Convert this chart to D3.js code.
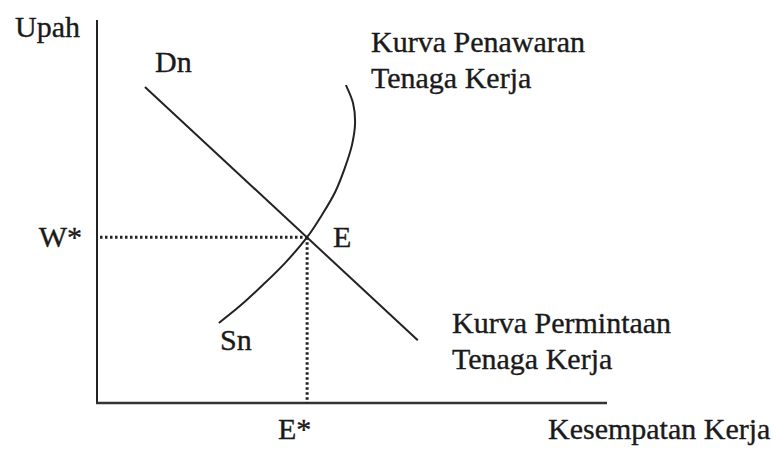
<!DOCTYPE html>
<html>
<head>
<meta charset="utf-8">
<script src="https://cdn.jsdelivr.net/npm/d3@7"></script>
<style>
  body { margin: 0; background: #fff; }
  text { font-family: "Liberation Serif", "Times New Roman", serif; fill: #1a1a1a; stroke: #1a1a1a; stroke-width: 0.35; }
</style>
</head>
<body>
<svg id="chart" width="776" height="450"></svg>
<script>
// Demand curve (Dn), straight line, in axis units
const demandX = [0.94, 6.29];
const demandY = [8.25, 1.64];

// Supply curve (Sn), backward bending at the top
const supplyX = [2.39, 2.80, 3.25, 3.69, 4.12, 4.41, 4.67, 4.86, 5.00, 5.06, 5.02, 4.88];
const supplyY = [2.09, 2.53, 3.08, 3.66, 4.33, 4.91, 5.51, 6.14, 6.74, 7.31, 7.83, 8.30];

// Equilibrium point E
const eqX = 4.12;
const eqY = 4.33;

const svg = d3.select("#chart");

// Scales, both axes 0..10
const x = d3.scaleLinear().domain([0, 10]).range([97, 607]);
const y = d3.scaleLinear().domain([0, 10]).range([403, 20]);

// Axes (plain lines, no ticks)
svg.append("line")
  .attr("x1", x(0)).attr("y1", y(0))
  .attr("x2", x(0)).attr("y2", y(10))
  .attr("stroke", "#222").attr("stroke-width", 2);
svg.append("line")
  .attr("x1", x(0) - 1).attr("y1", y(0))
  .attr("x2", x(10)).attr("y2", y(0))
  .attr("stroke", "#333").attr("stroke-width", 2.5);

// Dotted guide lines to W* and E*
svg.append("line")
  .attr("x1", x(0) + 3).attr("y1", y(eqY))
  .attr("x2", x(eqX)).attr("y2", y(eqY))
  .attr("stroke", "#222").attr("stroke-width", 3)
  .attr("stroke-dasharray", "2.5,2.5");
svg.append("line")
  .attr("x1", x(eqX)).attr("y1", y(eqY))
  .attr("x2", x(eqX)).attr("y2", y(0))
  .attr("stroke", "#222").attr("stroke-width", 3)
  .attr("stroke-dasharray", "2.5,2.5");

const line = d3.line()
  .x(d => x(d[0]))
  .y(d => y(d[1]));

// demand line
svg.append("path")
  .datum(demandX.map((v, i) => [v, demandY[i]]))
  .attr("d", line)
  .attr("fill", "none")
  .attr("stroke", "#222")
  .attr("stroke-width", 2);

// supply curve
svg.append("path")
  .datum(supplyX.map((v, i) => [v, supplyY[i]]))
  .attr("d", line.curve(d3.curveCatmullRom))
  .attr("fill", "none")
  .attr("stroke", "#222")
  .attr("stroke-width", 2);

function label(txt, px, py, anchor) {
  svg.append("text")
    .attr("x", px)
    .attr("y", py)
    .attr("font-size", 30)
    .attr("text-anchor", anchor || "start")
    .text(txt);
}

label("Upah", 15, 37);
label("Dn", 155, 72);
label("Kurva Penawaran", 371, 52);
label("Tenaga Kerja", 371, 88);
label("W*", 82, 247, "end");
label("E", 333, 247);
label("Sn", 220, 350);
label("Kurva Permintaan", 452, 333);
label("Tenaga Kerja", 452, 369);
label("E*", 278, 439);
label("Kesempatan Kerja", 548, 439);
</script>
</body>
</html>
